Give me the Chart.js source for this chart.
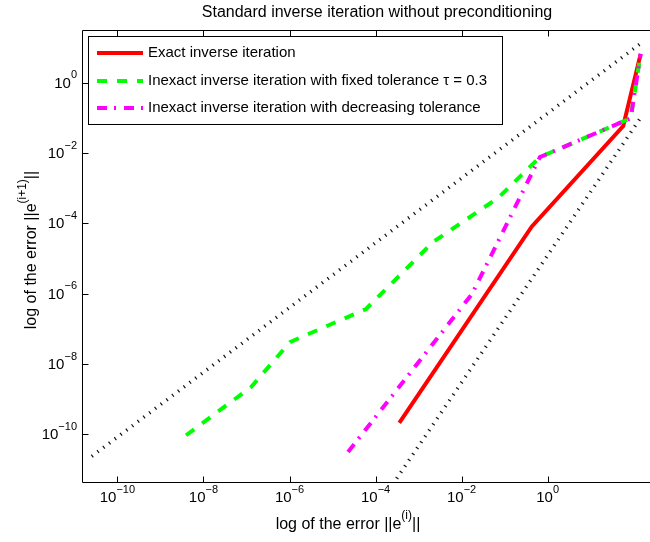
<!DOCTYPE html>
<html>
<head>
<meta charset="utf-8">
<script src="https://cdn.jsdelivr.net/npm/chart.js@4.4.0/dist/chart.umd.min.js"></script>
<style>
    html, body { margin: 0; padding: 0; background: #fff; overflow: hidden; }
    #wrap { position: relative; width: 680px; height: 542px; }
</style>
</head>
<body>
<div id="wrap"><canvas id="chart" width="680" height="542"></canvas></div>
<script>
// 坐标轴范围与刻度（十的幂）
const xLimits = [1.585e-11, 776];
const yLimits = [4.07e-12, 29.5];
const xTickExps = [-10, -8, -6, -4, -2, 0];
const yTickExps = [-10, -8, -6, -4, -2, 0];

// 精确逆迭代
const exactX = [3.56e-4, 0.425, 57, 145];
const exactY = [2.1e-10, 7.96e-5, 0.0585, 6.6];

// 固定容差 tau = 0.3
const fixedX = [3.94e-9, 1.28e-7, 1.03e-6, 6.0e-5, 2.16e-3, 0.070, 0.66, 85, 145];
const fixedY = [9.3e-11, 2.19e-9, 4.17e-8, 3.63e-7, 2.92e-5, 5.22e-4, 7.6e-3, 0.097, 6.6];

// 递减容差
const decrX = [2.29e-5, 0.0174, 0.66, 85, 145];
const decrY = [3.09e-11, 9.66e-7, 7.6e-3, 0.097, 6.6];

// 参考斜率线（线性 / 二次收敛）
const linRefX = [2.54e-11, 139];
const linRefY = [2.34e-11, 12.6];
const quadRefX = [3.1e-4, 151];
const quadRefY = [5.5e-12, 0.108];

const FONT = '"Liberation Sans", Arial, Helvetica, sans-serif';

function toPoints(xs, ys) {
    return xs.map((x, i) => ({ x: x, y: ys[i] }));
}

// 依次绘制带上标的文字，返回总宽度
function richText(ctx, parts, x, y, size, draw) {
    let w = 0;
    parts.forEach(p => {
        const s = p.sup ? Math.round(size * 0.72) : size;
        ctx.font = s + 'px ' + FONT;
        if (draw) ctx.fillText(p.t, x + w, p.sup ? y - size * 0.62 : y);
        w += ctx.measureText(p.t).width;
    });
    return w;
}

function powParts(exp) {
    return [{ t: '10' }, { t: exp === 0 ? '0' : '\u2212' + Math.abs(exp), sup: true }];
}

// 坐标框、刻度、标签、图例
const framePlugin = {
    id: 'frame',
    afterDraw(chart) {
        const ctx = chart.ctx;
        const a = chart.chartArea;
        const xs = chart.scales.x;
        const ys = chart.scales.y;
        const L = a.left - 0.5, R = a.right - 0.5, T = a.top - 0.5, B = a.bottom - 0.5;
        ctx.save();
        ctx.strokeStyle = '#000';
        ctx.lineWidth = 1;
        ctx.setLineDash([]);
        ctx.beginPath();
        ctx.moveTo(L, T); ctx.lineTo(R, T); ctx.lineTo(R, B); ctx.lineTo(L, B); ctx.closePath();
        ctx.stroke();

        // 内向刻度
        ctx.beginPath();
        xTickExps.forEach(e => {
            const px = Math.round(xs.getPixelForValue(Math.pow(10, e))) + 0.5;
            ctx.moveTo(px, B); ctx.lineTo(px, B - 6);
            ctx.moveTo(px, T); ctx.lineTo(px, T + 6);
        });
        yTickExps.forEach(e => {
            const py = Math.round(ys.getPixelForValue(Math.pow(10, e))) + 0.5;
            ctx.moveTo(L, py); ctx.lineTo(L + 6, py);
            ctx.moveTo(R, py); ctx.lineTo(R - 6, py);
        });
        ctx.stroke();

        ctx.fillStyle = '#000';
        ctx.textAlign = 'left';
        ctx.textBaseline = 'alphabetic';

        // 刻度标签
        xTickExps.forEach(e => {
            const px = xs.getPixelForValue(Math.pow(10, e));
            const w = richText(ctx, powParts(e), 0, 0, 15, false);
            richText(ctx, powParts(e), px - w / 2, a.bottom + 19, 15, true);
        });
        yTickExps.forEach(e => {
            const py = ys.getPixelForValue(Math.pow(10, e));
            const w = richText(ctx, powParts(e), 0, 0, 15, false);
            richText(ctx, powParts(e), a.left - 6 - w, py + 5, 15, true);
        });

        // 标题
        ctx.font = '16px ' + FONT;
        const title = 'Standard inverse iteration without preconditioning';
        const tw = ctx.measureText(title).width;
        ctx.fillText(title, 377 - tw / 2, 17);

        // x 轴标签
        const xParts = [{ t: 'log of the error ||e' }, { t: '(i)', sup: true }, { t: '||' }];
        const xw = richText(ctx, xParts, 0, 0, 16, false);
        richText(ctx, xParts, 348 - xw / 2, 529, 16, true);

        // y 轴标签
        const yParts = [{ t: 'log of the error ||e' }, { t: '(i+1)', sup: true }, { t: '||' }];
        const yw = richText(ctx, yParts, 0, 0, 16, false);
        ctx.save();
        ctx.translate(36, 250);
        ctx.rotate(-Math.PI / 2);
        richText(ctx, yParts, -yw / 2, 0, 16, true);
        ctx.restore();

        // 图例
        const lx = 88.5, ly = 36.5, lw = 414, lh = 88;
        ctx.fillStyle = '#fff';
        ctx.fillRect(lx, ly, lw, lh);
        ctx.strokeStyle = '#000';
        ctx.lineWidth = 1;
        ctx.strokeRect(lx, ly, lw, lh);
        const rows = [53, 81, 108];
        chart.data.datasets.filter(d => d.label).forEach((d, i) => {
            const y = rows[i];
            ctx.strokeStyle = d.borderColor;
            ctx.lineWidth = d.borderWidth;
            ctx.setLineDash(d.borderDash || []);
            ctx.lineCap = 'butt';
            ctx.beginPath();
            ctx.moveTo(97, y); ctx.lineTo(143, y);
            ctx.stroke();
            ctx.setLineDash([]);
            ctx.fillStyle = '#000';
            ctx.font = '15px ' + FONT;
            ctx.textBaseline = 'middle';
            ctx.fillText(d.label, 148, y);
        });
        ctx.restore();
    }
};

const ctx = document.getElementById('chart').getContext('2d');
const chart = new Chart(ctx, {
    type: 'line',
    data: {
        datasets: [
            {
                label: 'Exact inverse iteration',
                data: toPoints(exactX, exactY),
                borderColor: '#ff0000',
                borderWidth: 4,
                order: 3
            },
            {
                label: 'Inexact inverse iteration with fixed tolerance \u03c4 = 0.3',
                data: toPoints(fixedX, fixedY),
                borderColor: '#00ff00',
                borderWidth: 4,
                borderDash: [10, 10],
                order: 2
            },
            {
                label: 'Inexact inverse iteration with decreasing tolerance',
                data: toPoints(decrX, decrY),
                borderColor: '#ff00ff',
                borderWidth: 4,
                borderDash: [10, 7, 2, 8],
                order: 1
            },
            {
                label: '',
                data: toPoints(linRefX, linRefY),
                borderColor: '#111',
                borderWidth: 3.5,
                borderDash: [1.2, 6],
                order: 5
            },
            {
                label: '',
                data: toPoints(quadRefX, quadRefY),
                borderColor: '#111',
                borderWidth: 3.5,
                borderDash: [1.2, 6],
                order: 5
            }
        ]
    },
    options: {
        responsive: false,
        animation: false,
        borderCapStyle: 'butt',
        elements: {
            point: { radius: 0, hoverRadius: 0 },
            line: { tension: 0, fill: false, borderJoinStyle: 'miter' }
        },
        layout: { padding: { left: 83, top: 31, right: 8, bottom: 59 } },
        scales: {
            x: { type: 'logarithmic', min: xLimits[0], max: xLimits[1], display: false },
            y: { type: 'logarithmic', min: yLimits[0], max: yLimits[1], display: false }
        },
        plugins: {
            legend: { display: false },
            tooltip: { enabled: false },
            title: { display: false }
        }
    },
    plugins: [framePlugin]
});
</script>
</body>
</html>
